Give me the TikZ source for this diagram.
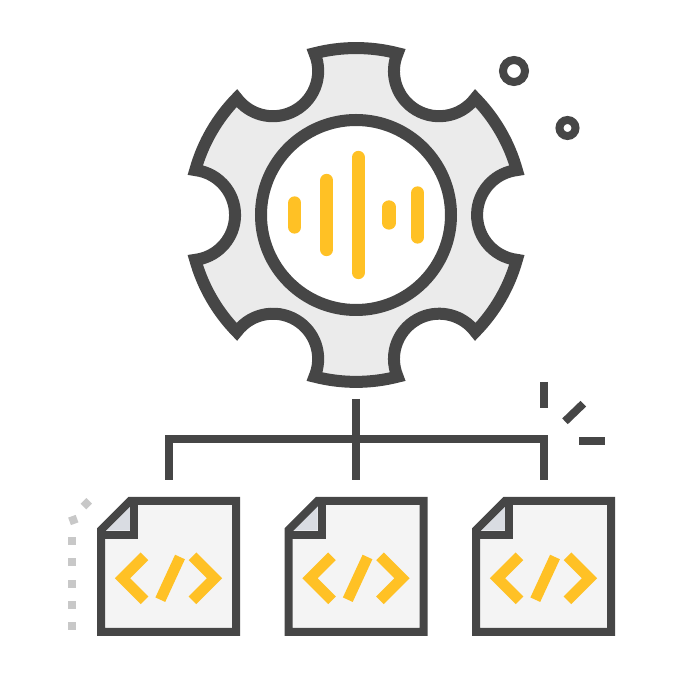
\documentclass[tikz,border=0pt]{standalone}
\usetikzlibrary{positioning}
\definecolor{inkdark}{HTML}{464646}
\definecolor{gearfill}{HTML}{EBEBEB}
\definecolor{pagefill}{HTML}{F4F4F4}
\definecolor{foldfill}{HTML}{D9DCE2}
\definecolor{amber}{HTML}{FFC125}
\definecolor{dotgrey}{HTML}{C8C8C8}
\tikzstyle{gearline} = [draw=inkdark, fill=gearfill, line width=12pt, miter limit=10]
\tikzstyle{ringline} = [circle, draw=inkdark, fill=white, line width=12pt, minimum size=190pt, inner sep=0pt]
\tikzstyle{anchorbox} = [circle, minimum size=368pt, inner sep=0pt, outer sep=0pt]
\tikzstyle{filebox} = [minimum width=135pt, minimum height=131pt, inner sep=0pt, outer sep=0pt]
\tikzstyle{bus} = [draw=inkdark, line width=8pt]
\tikzstyle{bar} = [draw=amber, line width=13.3pt, line cap=round]
\tikzstyle{codeline} = [draw=amber, line width=10.8pt]
\tikzset{
  codefile/.pic={
    \fill[pagefill] (-67.5,-65.5) -- (67.5,-65.5) -- (67.5,65.5) -- (-38.5,65.5) -- (-67.5,36.5) -- cycle;
    \fill[foldfill] (-62,36) -- (-38.5,60) -- (-38.5,36) -- cycle;
    \draw[bus] (-67.5,31.5) -- (-34.5,31.5) -- (-34.5,65.5);
    \draw[bus] (-67.5,-65.5) -- (67.5,-65.5) -- (67.5,65.5) -- (-38.5,65.5) -- (-67.5,36.5) -- cycle;
    \draw[codeline] (-24,10.2) -- (-46,-11.8) -- (-24,-33.8);
    \draw[codeline] (24,10.2) -- (46,-11.8) -- (24,-33.8);
    \draw[codeline] (11.5,9.5) -- (-8.2,-33.2);
  }
}
\begin{document}
\begin{tikzpicture}[x=1pt,y=1pt]
\useasboundingbox (0,0) rectangle (681,680);
% gear
\node[anchorbox] (gear) at (356,465) {};
\draw[gearline] ([shift={(gear.center)}] 15.6:167pt)
  \foreach \a in {0,60,...,300} {
    arc[start angle=\a+15.6, end angle=\a+44.4, radius=167pt]
    arc[start angle=\a-36.9, end angle=\a-203.1, radius=45.2pt]
  } -- cycle;
\node[ringline] (ring) at (gear.center) {};
\foreach \dx/\dy in {-61.3/12, -29.3/34.5, 2.3/57.5, 33/8, 61.7/22}
  \draw[bar] ([xshift=\dx pt,yshift=\dy pt]ring.center) -- ([xshift=\dx pt,yshift=-\dy pt]ring.center);
% bubbles
\node[circle, draw=inkdark, line width=8pt, minimum size=22pt, inner sep=0pt] (bubbleA) at (514,609) {};
\node[circle, draw=inkdark, line width=8pt, minimum size=16pt, inner sep=0pt] (bubbleB) at (567.5,552) {};
% files
\node[filebox] (fileA) at (168.5,113.5) {};
\node[filebox] (fileB) at (356,113.5) {};
\node[filebox] (fileC) at (543.5,113.5) {};
\pic at (fileA) {codefile};
\pic at (fileB) {codefile};
\pic at (fileC) {codefile};
% tree
\coordinate (tapA) at ([yshift=21pt]fileA.north);
\coordinate (tapB) at ([yshift=21pt]fileB.north);
\coordinate (tapC) at ([yshift=21pt]fileC.north);
\coordinate (busmid) at (356,240.5);
\draw[bus] (gear.south) -- (tapB);
\draw[bus] (tapA) |- (busmid) -| (tapC);
% sparks
\coordinate (sparkA) at (544,298);
\coordinate (sparkB) at (544,272);
\coordinate (sparkC) at (565,258.7);
\coordinate (sparkD) at (583.3,276.3);
\coordinate (sparkE) at (579,238.5);
\coordinate (sparkF) at (605,238.5);
\draw[bus] (sparkA) -- (sparkB);
\draw[bus] (sparkC) -- (sparkD);
\draw[bus] (sparkE) -- (sparkF);
% dotted trail
\foreach \px/\py/\rot in {71.5/54/0, 71.5/75/0, 71.5/96.3/0, 71.5/117.7/0, 71.5/138.7/0, 73.3/160/20, 86.3/176.3/45}
  \fill[dotgrey,shift={(\px,\py)},rotate=\rot] (-4,-4) rectangle (4,4);
\end{tikzpicture}
\end{document}
